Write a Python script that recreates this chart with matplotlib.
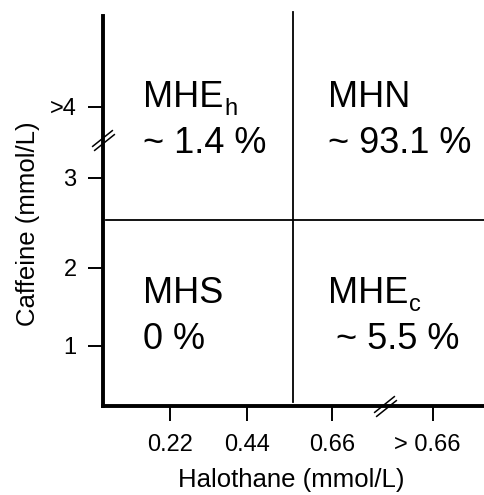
import matplotlib
matplotlib.use("Agg")
import matplotlib.pyplot as plt
import matplotlib.transforms as mtransforms
import numpy as np

plt.rcParams['font.family'] = ['Liberation Sans', 'DejaVu Sans']

# ---- data (schematic, normalised axis units) ----
x_tick_pos = [0.175, 0.377, 0.599, 0.864]
x_tick_labels = ['0.22', '0.44', '0.66', '> 0.66']
y_tick_pos = [0.154, 0.354, 0.585, 0.767]
y_tick_labels = ['1', '2', '3', '>4']
halothane_threshold = 0.497
caffeine_threshold = 0.477
x_break = 0.738
y_break = 0.682

region_names = ['MHE', 'MHN', 'MHS', 'MHE']
region_subscripts = ['h', '', '', 'c']
region_values = ['~ 1.4 %', '~ 93.1 %', '0 %', '~ 5.5 %']
region_x = [0.105, 0.589, 0.105, 0.589]
region_value_x = [0.105, 0.589, 0.105, 0.610]
region_name_y = [0.767, 0.767, 0.264, 0.264]
region_value_y = [0.649, 0.649, 0.146, 0.146]

fig = plt.figure(figsize=(4.85, 4.95), dpi=100)
ax = fig.add_axes([103/485, 89/495, 382/485, 390/495])
ax.set_xlim(0, 1)
ax.set_ylim(0, 1)

for s in ['top', 'right']:
    ax.spines[s].set_visible(False)
for s in ['left', 'bottom']:
    ax.spines[s].set_linewidth(2.8)

ax.set_xticks(x_tick_pos)
ax.set_xticklabels(x_tick_labels)
ax.set_yticks(y_tick_pos)
ax.set_yticklabels(y_tick_labels)
ax.tick_params(axis='both', direction='out', length=11, width=1.4, labelsize=17, pad=8)
ax.tick_params(axis='x', pad=9)

# shift '> 0.66' slightly to the left as in reference
lbl = ax.get_xticklabels()[-1]
lbl.set_transform(lbl.get_transform() + mtransforms.ScaledTranslation(-6/100, 0, fig.dpi_scale_trans))

ax.set_xlabel('Halothane (mmol/L)', fontsize=18.5)
ax.set_ylabel('Caffeine (mmol/L)', fontsize=18.5)
ax.xaxis.set_label_coords(0.492, -0.16)
ax.yaxis.set_label_coords(-0.165, 0.467)

# threshold lines
ax.plot([halothane_threshold, halothane_threshold], [0.01, 1.01], color='black', lw=1.3, clip_on=False)
ax.plot([0.008, 1.0], [caffeine_threshold, caffeine_threshold], color='black', lw=1.3, clip_on=False)

# axis break marks: two short parallel diagonal strokes
brk = [(-1, -0.8), (1, 0.8)]
d = np.array([1.0, 0.8]); d = d / np.linalg.norm(d)
perp = np.array([-d[1], d[0]]) * 2.2
for sgn in (-1, 1):
    off = mtransforms.ScaledTranslation(sgn*perp[0]/100, sgn*perp[1]/100, fig.dpi_scale_trans)
    ax.plot([x_break], [0], marker=brk, markersize=15, mew=1.1, color='black',
            clip_on=False, transform=ax.transData + off)
    ax.plot([0], [y_break], marker=brk, markersize=15, mew=1.1, color='black',
            clip_on=False, transform=ax.transData + off)

for name, sub, val, xn, xv, yn, yv in zip(region_names, region_subscripts, region_values,
                                          region_x, region_value_x, region_name_y, region_value_y):
    t = ax.text(xn, yn, name, fontsize=26, ha='left', va='baseline')
    if sub:
        ax.annotate(sub, xy=(1, 0), xycoords=t, xytext=(0.5, 0), textcoords='offset points',
                    fontsize=17, ha='left', va='baseline')
    ax.text(xv, yv, val, fontsize=26, ha='left', va='baseline')

fig.savefig('out.png', dpi=100)
